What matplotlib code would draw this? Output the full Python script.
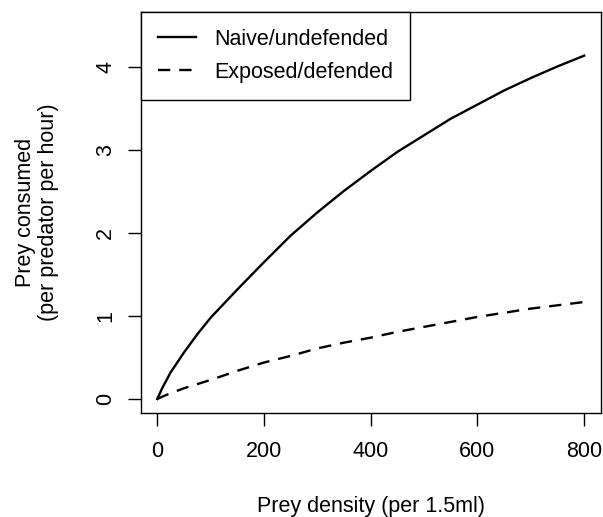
#Functional response curves, naive vs exposed prey
import matplotlib
matplotlib.use('Agg')
import matplotlib.pyplot as plt
import numpy as np

prey_density = [0, 10, 25, 50, 75, 100, 150, 200, 250, 300, 350, 400, 450, 500, 550, 600, 650, 700, 750, 800]
naive = [0, 0.14, 0.32, 0.56, 0.78, 0.98, 1.32, 1.65, 1.97, 2.25, 2.51, 2.75, 2.98, 3.18, 3.38, 3.55, 3.72, 3.87, 4.01, 4.14]
exposed = [0, 0.03, 0.07, 0.13, 0.18, 0.23, 0.34, 0.44, 0.52, 0.61, 0.68, 0.74, 0.81, 0.87, 0.93, 0.99, 1.04, 1.09, 1.13, 1.17]
x_ticks = [0, 200, 400, 600, 800]
y_ticks = [0, 1, 2, 3, 4]

plt.rcParams['font.family'] = ['Liberation Sans', 'DejaVu Sans']
fs = 15.5

fig = plt.figure(figsize=(6.03, 5.17), dpi=100)
ax = fig.add_axes([0.2333, 0.2017, 0.7629, 0.7757])

ax.plot(prey_density, naive, color='black', lw=1.7, label='Naive/undefended')
ax.plot(prey_density, exposed, color='black', lw=1.7, dashes=(5.2, 3.8), label='Exposed/defended')

ax.set_xlim(-31, 831)
ax.set_ylim(-0.165, 4.67)
ax.set_xticks(x_ticks)
ax.set_yticks(y_ticks)
ax.set_yticklabels([str(v) for v in y_ticks], rotation=90, va='center')
ax.tick_params(axis='both', direction='out', length=9.5, width=1, labelsize=fs, colors='black')
ax.tick_params(axis='x', pad=11)
ax.tick_params(axis='y', pad=8)
for s in ax.spines.values():
    s.set_linewidth(1)
    s.set_color('black')

ax.set_xlabel('Prey density (per 1.5ml)', fontsize=fs, va='center')
ax.xaxis.set_label_coords(0.5, -0.233)
ax.set_ylabel('Prey consumed\n(per predator per hour)', fontsize=fs, linespacing=1.15, va='center')
ax.yaxis.set_label_coords(-0.226, 0.5)

leg = ax.legend(loc='upper left', fontsize=fs, frameon=True, fancybox=False,
                edgecolor='black', framealpha=1, borderaxespad=0,
                handlelength=1.75, handletextpad=0.85, labelspacing=0.55, borderpad=0.8)
leg.get_frame().set_linewidth(1)

fig.savefig('out.png', dpi=100)
